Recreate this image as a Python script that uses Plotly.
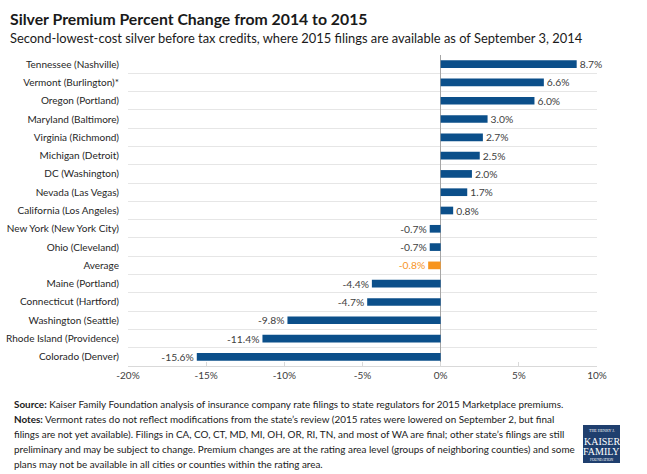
import plotly.graph_objects as go

categories = ["Tennessee (Nashville)", "Vermont (Burlington)*", "Oregon (Portland)",
              "Maryland (Baltimore)", "Virginia (Richmond)", "Michigan (Detroit)",
              "DC (Washington)", "Nevada (Las Vegas)", "California (Los Angeles)",
              "New York (New York City)", "Ohio (Cleveland)", "Average",
              "Maine (Portland)", "Connecticut (Hartford)", "Washington (Seattle)",
              "Rhode Island (Providence)", "Colorado (Denver)"]
values = [8.7, 6.6, 6.0, 3.0, 2.7, 2.5, 2.0, 1.7, 0.8, -0.7, -0.7, -0.8,
          -4.4, -4.7, -9.8, -11.4, -15.6]
tick_vals = [-20, -15, -10, -5, 0, 5, 10]
tick_text = ["-20%", "-15%", "-10%", "-5%", "0%", "5%", "10%"]

BLUE = "#0B4F8A"
ORANGE = "#F7941D"
FONT = "Lato"

colors = [ORANGE if c == "Average" else BLUE for c in categories]
label_colors = [ORANGE if c == "Average" else "#404040" for c in categories]

fig = go.Figure(go.Bar(
    x=values, y=categories, orientation="h",
    marker=dict(color=colors, line=dict(width=0)),
    text=[f"{v:.1f}%" for v in values],
    textposition="outside",
    constraintext="none",
    textfont=dict(color=label_colors, size=10.3, family=FONT),
    cliponaxis=False,
    hoverinfo="skip",
))

L, R, T, B = 128, 50, 55, 108
W, H = 647, 474
pw = W - L - R
ph = H - T - B

def px(x):
    return (x - L) / pw

def py(y):
    return (H - B - y) / ph

fig.update_layout(
    width=W, height=H,
    margin=dict(l=L, r=R, t=T, b=B, autoexpand=False),
    paper_bgcolor="white", plot_bgcolor="white",
    showlegend=False,
    bargap=0.58,
    font=dict(family=FONT, color="#404040"),
    xaxis=dict(range=[-20, 10], tickvals=tick_vals, ticktext=tick_text,
               automargin=False,
               showgrid=False, zeroline=True, zerolinecolor="#A6A6A6", zerolinewidth=1,
               showline=True, linecolor="#D9D9D9", linewidth=1,
               ticks="inside", ticklen=4, tickcolor="#D9D9D9",
               tickfont=dict(size=10, color="#404040", family=FONT)),
    yaxis=dict(autorange="reversed", tickson="boundaries", showgrid=True,
               automargin=False,
               gridcolor="#E6E6E6", gridwidth=1, ticks="", ticklen=0,
               tickfont=dict(size=10, color="#262626", family=FONT),
               ticklabelstandoff=8),
)

annotations = [
    dict(text="<b>Silver Premium Percent Change from 2014 to 2015</b>",
         x=px(8), y=py(18), xanchor="left", yanchor="middle",
         font=dict(size=15.8, color="#1a1a1a", family=FONT)),
    dict(text="Second-lowest-cost silver before tax credits, where 2015 filings are available as of September 3, 2014",
         x=px(8), y=py(38), xanchor="left", yanchor="middle",
         font=dict(size=12.9, color="#1a1a1a", family=FONT)),
]
notes = [
    "<b>Source:</b> Kaiser Family Foundation analysis of insurance company rate filings to state regulators for 2015 Marketplace premiums.",
    "<b>Notes:</b> Vermont rates do not reflect modifications from the state\u2019s review (2015 rates were lowered on September 2, but final",
    "filings are not yet available). Filings in CA, CO, CT, MD, MI, OH, OR, RI, TN, and most of WA are final; other state\u2019s filings are still",
    "preliminary and may be subject to change. Premium changes are at the rating area level (groups of neighboring counties) and some",
    "plans may not be available in all cities or counties within the rating area.",
]
for i, line in enumerate(notes):
    annotations.append(dict(text=line, x=px(12), y=py(404 + 15 * i), xanchor="left",
                            yanchor="middle", showarrow=False,
                            font=dict(size=9.9, color="#1a1a1a", family=FONT)))
logo_lines = [("THE HENRY J.", 4, 430), ("KAISER", 10, 441), ("FAMILY", 10, 451), ("FOUNDATION", 3.6, 460)]
for t, s, y in logo_lines:
    annotations.append(dict(text=t, x=px(601.5), y=py(y), xanchor="center", yanchor="middle",
                            font=dict(size=s, color="white", family="Liberation Serif")))
for a in annotations:
    a.update(xref="paper", yref="paper", showarrow=False)
fig.update_layout(annotations=annotations)

fig.add_shape(type="rect", xref="paper", yref="paper",
              x0=px(583), x1=px(620), y0=py(463), y1=py(425),
              fillcolor="#1F3F6E", line=dict(width=0), layer="below")

fig.write_html("out.html", config={"displayModeBar": False})

# remove the default browser body margin so the figure sits at the page origin
with open("out.html", encoding="utf-8") as f:
    html = f.read()
html = html.replace("<head>", "<head><style>html,body{margin:0;padding:0;overflow:hidden;}</style>", 1)
with open("out.html", "w", encoding="utf-8") as f:
    f.write(html)
